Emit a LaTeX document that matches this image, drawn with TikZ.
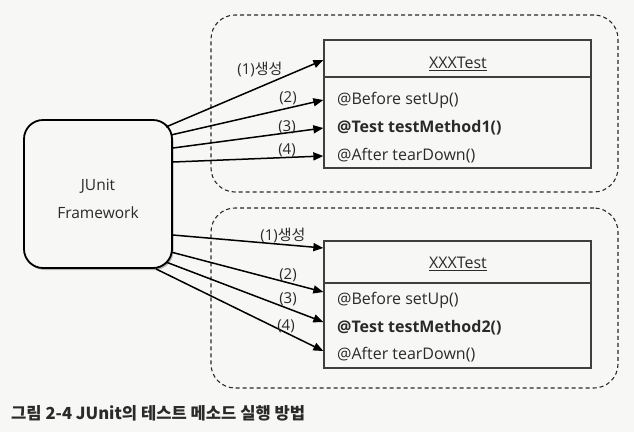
\documentclass[tikz,border=0pt]{standalone}
\usepackage{fontspec}
\setmainfont{Open Sans}
\newfontfamily\kr{Noto Sans CJK KR}
\usetikzlibrary{arrows.meta,shadows}
\definecolor{bg}{HTML}{F7F7F5}
\definecolor{ink}{HTML}{2A2A2A}
\newcommand{\myul}[1]{\setbox0\hbox{#1}\rlap{\rule[-3pt]{\wd0}{1.3pt}}\box0}
\tikzset{
  frame/.style={draw=ink, line width=1.1pt, dash pattern=on 4pt off 3pt, rounded corners=24pt, inner sep=0pt},
  classpart/.style={draw=ink!90, line width=1.3pt, inner sep=0pt},
  fw/.style={draw=black, line width=1.8pt, rounded corners=19pt, fill=bg, inner sep=0pt,
             drop shadow={shadow xshift=1.5pt, shadow yshift=-2pt, opacity=0.45, fill=black!60}},
  row/.style={anchor=west, inner sep=0pt, font=\fontsize{16}{18}\selectfont, text=ink},
  title/.style={inner sep=0pt, font=\fontsize{16}{18}\selectfont, text=ink},
  lbl/.style={inner sep=0pt, font=\fontsize{15}{17}\selectfont, text=ink},
  call/.style={draw=black, line width=1.5pt, -{Triangle[length=10pt,width=8pt]}},
}
\begin{document}
\begin{tikzpicture}[x=1pt,y=-1pt]
\fill[bg] (0,0) rectangle (634,432);
\useasboundingbox (0,0) rectangle (634,432);

% dashed frames
\node[frame, minimum width=407pt, minimum height=177pt] (frame1) at (414.5,103.5) {};
\node[frame, minimum width=407pt, minimum height=180pt] (frame2) at (414.5,298) {};

% JUnit framework box
\node[fw, minimum width=148pt, minimum height=148pt] (junit) at (98,194) {};
\node[inner sep=0pt, align=center, font=\fontsize{15.5}{18}\selectfont, text=ink] (junittext) at (98,199) {JUnit\\[10pt]Framework};

% class box 1
\node[classpart, minimum width=267pt, minimum height=37pt] (head1) at (457.5,58.5) {};
\node[classpart, minimum width=267pt, minimum height=91pt] (body1) at (457.5,122.5) {};
\node[title] (t1) at (458,64) {\myul{XXXTest}};
\node[row] (r1a) at (337,100) {@Before setUp()};
\node[row, font=\fontsize{16}{18}\selectfont\bfseries] (r1b) at (337,128) {@Test testMethod1()};
\node[row] (r1c) at (337,156) {@After tearDown()};

% class box 2
\node[classpart, minimum width=267pt, minimum height=42pt] (head2) at (457.5,262) {};
\node[classpart, minimum width=267pt, minimum height=85pt] (body2) at (457.5,325.5) {};
\node[title] (t2) at (458,264) {\myul{XXXTest}};
\node[row] (r2a) at (337,300) {@Before setUp()};
\node[row, font=\fontsize{16}{18}\selectfont\bfseries] (r2b) at (337,328) {@Test testMethod2()};
\node[row] (r2c) at (337,355) {@After tearDown()};

% arrow targets
\coordinate (e1a) at (body1.west |- r1a.west);
\coordinate (e1b) at (body1.west |- r1b.west);
\coordinate (e1c) at (body1.west |- r1c.west);
\coordinate (e2a) at (body2.west |- r2a.west);
\coordinate (e2b) at (body2.west |- r2b.west);
\coordinate (e2c) at (body2.west |- r2c.west);

% arrows to first instance
\draw[call] ([xshift=-7pt,yshift=67pt]junit.east) -- ([yshift=-1.5pt]head1.west);
\draw[call] ([xshift=-2pt,yshift=59pt]junit.east) -- (e1a);
\draw[call] ([yshift=46pt]junit.east) -- (e1b);
\draw[call] ([yshift=32pt]junit.east) -- (e1c);

% arrows to second instance
\draw[call] ([yshift=-41pt]junit.east) -- ([yshift=14pt]head2.west);
\draw[call] ([xshift=-2pt,yshift=-58pt]junit.east) -- ([yshift=8pt]e2a);
\draw[call] ([xshift=-7pt,yshift=-68pt]junit.east) -- ([yshift=6pt]e2b);
\draw[call] ([xshift=-17pt]junit.south east) -- ([yshift=4pt]e2c);

% labels
\node[lbl] (l1a) at (260,69) {(1)\kr 생성};
\node[lbl] (l1b) at (288,98) {(2)};
\node[lbl] (l1c) at (287,127) {(3)};
\node[lbl] (l1d) at (287,150) {(4)};
\node[lbl] (l2a) at (283,235) {(1)\kr 생성};
\node[lbl] (l2b) at (288,275) {(2)};
\node[lbl] (l2c) at (288,299) {(3)};
\node[lbl] (l2d) at (286,326) {(4)};

% caption
\node[anchor=west, inner sep=0pt, font=\kr\bfseries\fontsize{16.6}{18}\selectfont, text=ink] (caption) at (11,413) {그림 2-4 JUnit의 테스트 메소드 실행 방법};
\end{tikzpicture}
\end{document}
